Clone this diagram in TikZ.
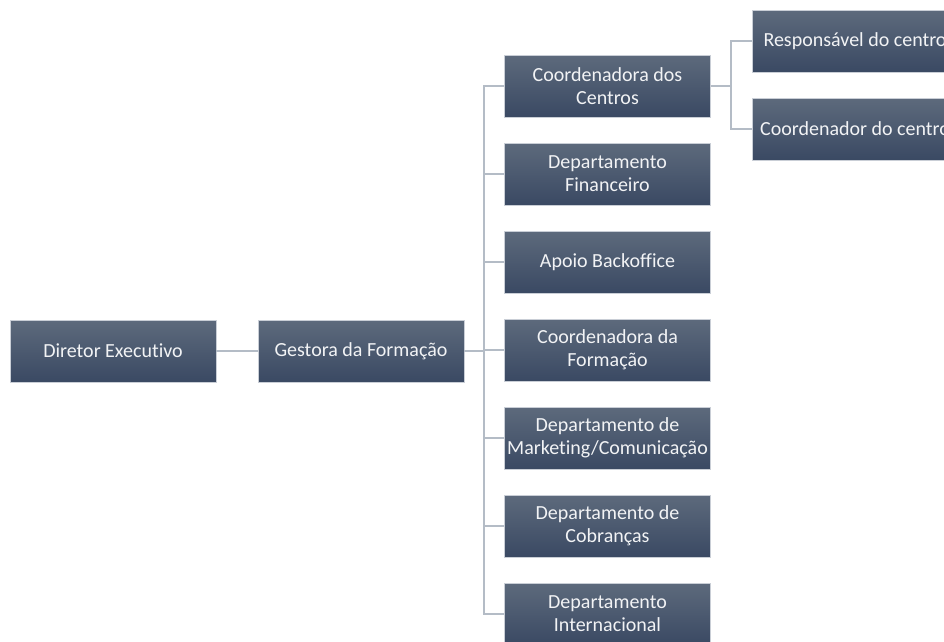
\documentclass[tikz,border=0pt]{standalone}
\usepackage{fontspec}
\setmainfont[Ligatures={NoCommon,NoRequired,NoContextual}]{Carlito}
\definecolor{boxtop}{HTML}{5D6A7C}
\definecolor{boxbot}{HTML}{3A4963}
\definecolor{boxedge}{HTML}{C9CED6}
\definecolor{linegray}{HTML}{B4BCC6}
\definecolor{txt}{HTML}{F2F3F5}
\begin{document}
\begin{tikzpicture}[x=1pt,y=-1pt,
  orgbox/.style={draw=boxedge, line width=0.8pt, top color=boxtop, bottom color=boxbot,
    minimum width=206pt, minimum height=62pt, inner sep=0pt, align=center,
    text=txt, font=\fontsize{20}{23}\selectfont},
  conn/.style={draw=linegray, line width=1.5pt}]
\useasboundingbox (0,0) rectangle (944,641);
\clip (0,0) rectangle (944,641);
\fill[white] (0,0) rectangle (944,641);
\node[orgbox] (dir) at (113,351) {Diretor Executivo};
\node[orgbox] (ges) at (361,351) {Gestora da Formação};
\node[orgbox] (c1) at (607.5,86) {Coordenadora dos\\Centros};
\node[orgbox] (c2) at (607.5,174) {Departamento\\Financeiro};
\node[orgbox] (c3) at (607.5,262) {Apoio Backoffice};
\node[orgbox] (c4) at (607.5,350) {Coordenadora da\\Formação};
\node[orgbox] (c5) at (607.5,438) {Departamento de\\Marketing/Comunicação};
\node[orgbox] (c6) at (607.5,526) {Departamento de\\Cobranças};
\node[orgbox] (c7) at (607.5,614) {Departamento\\Internacional};
\node[orgbox] (r1) at (855,41) {Responsável do centro};
\node[orgbox] (r2) at (855,129) {Coordenador do centro};
\coordinate (bus) at (484,351);
\coordinate (bus2) at (731,86);
\draw[conn] (dir) -- (ges);
\draw[conn] (ges.east) -- (bus);
\foreach \n in {c1,c2,c3,c4,c5,c6,c7}{
  \draw[conn] (bus) |- (\n.west);
}
\draw[conn] (c1.east) -- (bus2);
\draw[conn] (bus2) |- (r1.west);
\draw[conn] (bus2) |- (r2.west);
\end{tikzpicture}
\end{document}
